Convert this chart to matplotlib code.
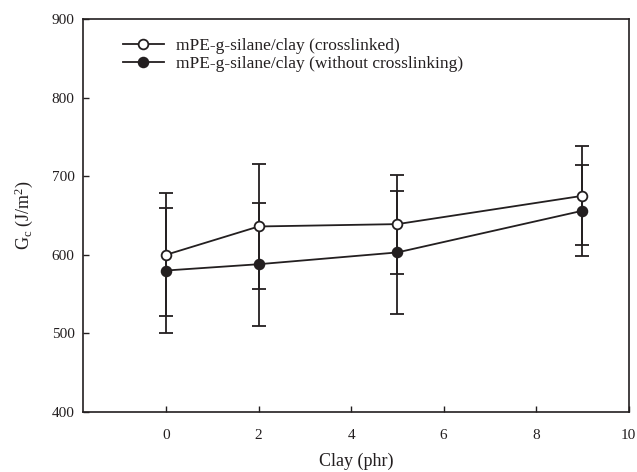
import matplotlib

matplotlib.use("Agg")
import matplotlib.pyplot as plt

# clay loading (phr)
clay = [0, 2, 5, 9]

# crosslinked mPE-g-silane/clay
gc_xl = [600, 636, 639, 675]
err_xl = [78, 79, 63, 63]

# without crosslinking
gc_nx = [580, 588, 603, 656]
err_nx = [79, 78, 78, 58]

labels = ["mPE-g-silane/clay (crosslinked)", "mPE-g-silane/clay (without crosslinking)"]

plt.rcParams["font.family"] = ["Liberation Serif", "DejaVu Serif"]
plt.rcParams["mathtext.fontset"] = "custom"
plt.rcParams["mathtext.rm"] = "Liberation Serif"
plt.rcParams["mathtext.it"] = "Liberation Serif:italic"

ink = "#231f20"
lw = 1.3

fig = plt.figure(figsize=(6.37, 4.72), dpi=100)
ax = fig.add_axes([0.130, 0.127, 0.857, 0.833])

bars = dict(fmt="none", ecolor=ink, elinewidth=lw, capsize=5, capthick=lw, zorder=2)
ax.errorbar(clay, gc_xl, yerr=err_xl, **bars)
ax.errorbar(clay, gc_nx, yerr=err_nx, **bars)
ax.plot(clay, gc_xl, "-o", color=ink, lw=lw, ms=7, mew=1.3, mfc="white", mec=ink, label=labels[0], zorder=3)
ax.plot(clay, gc_nx, "-o", color=ink, lw=lw, ms=7, mew=1.3, mfc=ink, mec=ink, label=labels[1], zorder=3)

ax.set_xlim(-1.8, 10)
ax.set_ylim(400, 900)
ax.set_xticks(range(0, 11, 2))
ax.set_yticks(range(400, 901, 100))
ax.tick_params(direction="in", length=4, width=1, color=ink, labelsize=11, labelcolor=ink)
ax.tick_params(axis="x", pad=12)
ax.tick_params(axis="y", pad=6)
for s in ax.spines.values():
    s.set_color(ink)
    s.set_linewidth(1.2)

ax.set_xlabel("Clay (phr)", fontsize=13, color=ink, labelpad=8)
ax.set_ylabel(r"G$_\mathrm{c}$ (J/m$^2$)", fontsize=13, color=ink, labelpad=12)

leg = ax.legend(loc="upper left", bbox_to_anchor=(0.073, 0.951), frameon=False, fontsize=12.5,
                handlelength=2.4, handletextpad=0.7, labelspacing=0.1, borderaxespad=0, borderpad=0)
for t in leg.get_texts():
    t.set_color(ink)

fig.savefig("out.png", dpi=100, facecolor="white")
